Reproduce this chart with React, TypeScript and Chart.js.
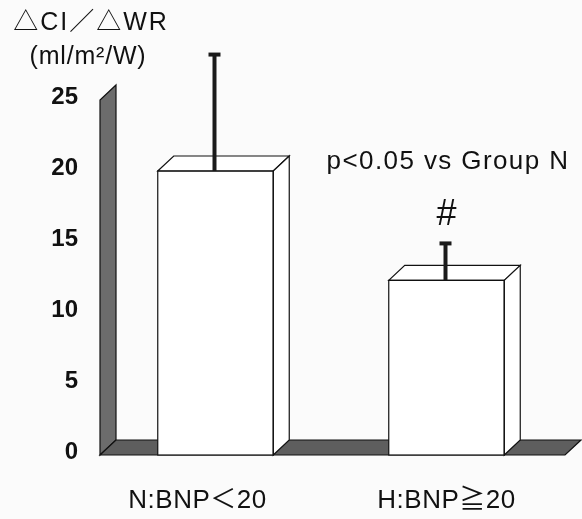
import React, { useEffect, useRef } from "react";
import { Chart, registerables } from "chart.js";
Chart.register(...registerables);

const categories = ["N:BNP＜20", "H:BNP≧20"];
const means = [20, 12.3];
const errors = [8.2, 2.6];
const yMax = 25;
const yStep = 5;
const titleLines = ["△CI／△WR", "(ml/m²/W)"];
const annotation = "p<0.05 vs Group N";
const sigMarks = ["", "#"];

const FONT = '"Liberation Sans", Arial, "Noto Sans CJK JP", sans-serif';
const DX = 16;
const DY = -15;
const labelShift = [-18, 0];

const threeD = {
  id: "threeD",
  beforeDraw(chart: any) {
    const ctx = chart.ctx;
    ctx.save();
    ctx.fillStyle = "#fbfbfb";
    ctx.fillRect(0, 0, chart.width, chart.height);
    ctx.restore();
  },
  beforeDatasetsDraw(chart: any) {
    const ctx = chart.ctx;
    const y = chart.scales.y;
    const { left, right } = chart.chartArea;
    const y0 = y.getPixelForValue(0);
    const yt = y.getPixelForValue(yMax);
    ctx.save();
    ctx.strokeStyle = "#111";
    ctx.lineWidth = 1.2;
    // left wall
    ctx.fillStyle = "#6c6c6c";
    ctx.beginPath();
    ctx.moveTo(left, y0);
    ctx.lineTo(left, yt);
    ctx.lineTo(left + DX, yt + DY);
    ctx.lineTo(left + DX, y0 + DY);
    ctx.closePath();
    ctx.fill();
    ctx.stroke();
    // floor
    ctx.fillStyle = "#5e5e5e";
    ctx.beginPath();
    ctx.moveTo(left, y0);
    ctx.lineTo(right + 3, y0);
    ctx.lineTo(right + 3 + DX, y0 + DY);
    ctx.lineTo(left + DX, y0 + DY);
    ctx.closePath();
    ctx.fill();
    ctx.stroke();
    ctx.restore();
  },
  afterDatasetsDraw(chart: any) {
    const ctx = chart.ctx;
    const y = chart.scales.y;
    const meta = chart.getDatasetMeta(0);
    ctx.save();
    meta.data.forEach((bar: any, i: number) => {
      const xl = bar.x - bar.width / 2;
      const xr = bar.x + bar.width / 2;
      const top = bar.y;
      const base = bar.base;
      ctx.strokeStyle = "#111";
      ctx.lineWidth = 1.2;
      ctx.fillStyle = "#ffffff";
      // top face
      ctx.beginPath();
      ctx.moveTo(xl, top);
      ctx.lineTo(xr, top);
      ctx.lineTo(xr + DX, top + DY);
      ctx.lineTo(xl + DX, top + DY);
      ctx.closePath();
      ctx.fill();
      ctx.stroke();
      // side face
      ctx.beginPath();
      ctx.moveTo(xr, top);
      ctx.lineTo(xr + DX, top + DY);
      ctx.lineTo(xr + DX, base + DY);
      ctx.lineTo(xr, base);
      ctx.closePath();
      ctx.fill();
      ctx.stroke();
      // front outline
      ctx.strokeRect(xl, top, xr - xl, base - top);
      // error bar
      const ye = y.getPixelForValue(means[i] + errors[i]);
      const xc = bar.x - 1;
      ctx.strokeStyle = "#1a1a1a";
      ctx.lineWidth = 4;
      ctx.beginPath();
      ctx.moveTo(xc, top);
      ctx.lineTo(xc, ye);
      ctx.stroke();
      ctx.beginPath();
      ctx.moveTo(xc - 6, ye);
      ctx.lineTo(xc + 6, ye);
      ctx.stroke();
      // significance mark
      if (sigMarks[i]) {
        ctx.fillStyle = "#111";
        ctx.font = `36px ${FONT}`;
        ctx.textAlign = "center";
        ctx.textBaseline = "middle";
        ctx.fillText(sigMarks[i], bar.x, ye - 28);
      }
      // category label
      ctx.fillStyle = "#111";
      ctx.font = `26px ${FONT}`;
      (ctx as any).letterSpacing = "0.5px";
      ctx.textAlign = "center";
      ctx.textBaseline = "middle";
      ctx.fillText(categories[i], bar.x + labelShift[i], 501);
      (ctx as any).letterSpacing = "0px";
    });
    // title
    ctx.fillStyle = "#111";
    ctx.textAlign = "center";
    ctx.textBaseline = "middle";
    ctx.font = `25px ${FONT}`;
    (ctx as any).letterSpacing = "2px";
    ctx.fillText(titleLines[0], 91, 23);
    (ctx as any).letterSpacing = "0.8px";
    ctx.fillText(titleLines[1], 88, 57);
    // annotation
    ctx.font = `26px ${FONT}`;
    (ctx as any).letterSpacing = "1.4px";
    ctx.fillText(annotation, 448, 162);
    (ctx as any).letterSpacing = "0px";
    ctx.restore();
  },
};

export default function App() {
  const ref = useRef<HTMLCanvasElement>(null);
  useEffect(() => {
    document.body.style.margin = "0";
    const chart = new Chart(ref.current as HTMLCanvasElement, {
      type: "bar",
      data: {
        labels: categories,
        datasets: [
          {
            data: means,
            backgroundColor: "#ffffff",
            borderColor: "#111",
            borderWidth: 0,
            barPercentage: 0.5,
            categoryPercentage: 1,
          },
        ],
      },
      options: {
        animation: false,
        responsive: false,
        devicePixelRatio: 1,
        layout: { padding: { top: 100, right: 20, left: 0, bottom: 0 } },
        plugins: {
          legend: { display: false },
          tooltip: { enabled: false },
          title: { display: false },
        },
        scales: {
          x: {
            grid: { display: false },
            border: { display: false },
            ticks: { display: false },
            afterFit: (s: any) => {
              s.height = 64;
            },
          },
          y: {
            min: 0,
            max: yMax,
            grid: { display: false, drawTicks: false },
            border: { display: false },
            ticks: {
              stepSize: yStep,
              color: "#111",
              padding: 22,
              labelOffset: -3,
              font: { family: FONT, size: 24, weight: "bold" },
            },
            afterFit: (s: any) => {
              s.width = 100;
            },
          },
        },
      },
      plugins: [threeD],
    });
    return () => chart.destroy();
  }, []);
  return <canvas ref={ref} width={582} height={519} />;
}
